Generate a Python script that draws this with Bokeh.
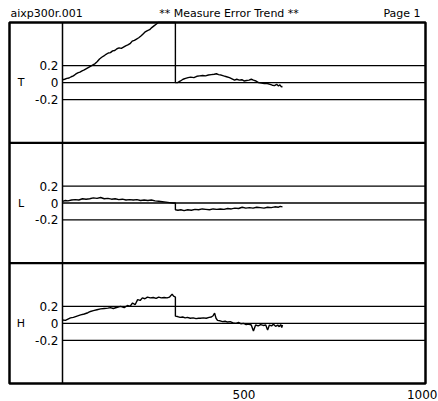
from bokeh.plotting import figure
from bokeh.models import Range1d
from bokeh.core.properties import value
from bokeh.embed import file_html
from bokeh.resources import INLINE

# ---------------- data ----------------
file_name = "aixp300r.001"
chart_title = "** Measure Error Trend **"
page_label = "Page 1"
panel_names = ["T", "L", "H"]
y_ticks = [0.2, 0.0, -0.2]
y_tick_labels = ["0.2", "0", "-0.2"]
x_ticks = [500, 1000]
x_tick_labels = ["500", "1000"]
X_MAX = 1000
Y_LIM = 0.71

# T runs off the top of its panel between ~262 and ~311; it is read there as the panel max
T_x = [0, 6, 12, 18, 24, 30, 36, 42, 48, 54, 60, 66, 72, 78, 84, 90, 96, 102, 108, 114,
       120, 126, 132, 138, 144, 150, 156, 162, 168, 174, 180, 186, 192, 198, 204, 210,
       216, 222, 228, 234, 240, 246, 252, 258, 264, 311,
       311, 317, 325, 332, 339, 346, 353, 362, 370, 378, 386, 394, 402, 410, 418, 424,
       430, 437, 444, 452, 460, 467, 474, 480, 487, 494, 500, 507, 514, 520, 526, 533,
       540, 548, 556, 564, 572, 578, 584, 590, 595, 599, 603, 606]
T_y = [0.035, 0.04, 0.05, 0.055, 0.07, 0.08, 0.1, 0.115, 0.125, 0.14, 0.15, 0.165, 0.18, 0.195, 0.21, 0.225, 0.25, 0.28, 0.3, 0.315,
       0.335, 0.35, 0.355, 0.375, 0.38, 0.4, 0.41, 0.405, 0.42, 0.435, 0.445, 0.46, 0.49, 0.5, 0.515, 0.53,
       0.55, 0.575, 0.6, 0.615, 0.625, 0.65, 0.67, 0.69, 0.71, 0.71,
       0.0, 0.0, 0.02, 0.04, 0.05, 0.06, 0.065, 0.06, 0.075, 0.08, 0.085, 0.08, 0.09, 0.095, 0.1, 0.105,
       0.095, 0.09, 0.08, 0.07, 0.06, 0.045, 0.03, 0.04, 0.03, 0.035, 0.02, 0.025, 0.03, 0.04, 0.03, 0.02,
       0.0, -0.005, -0.01, -0.01, -0.02, -0.03, -0.035, -0.02, -0.04, -0.025, -0.05, -0.045]

L_x = [0, 8, 15, 25, 35, 45, 55, 65, 75, 85, 95, 105, 115, 125, 135, 145, 155, 165, 175, 185,
       195, 205, 215, 225, 235, 245, 255, 265, 275, 285, 295, 305, 311,
       311, 318, 326, 335, 345, 355, 365, 375, 385, 395, 405, 415, 425, 435, 445, 455, 465,
       475, 485, 495, 505, 515, 525, 535, 545, 555, 565, 575, 585, 595, 600, 606]
L_y = [0.02, 0.03, 0.025, 0.035, 0.04, 0.035, 0.05, 0.045, 0.05, 0.06, 0.055, 0.065, 0.05, 0.055, 0.045, 0.05, 0.04, 0.045, 0.035, 0.04,
       0.035, 0.04, 0.03, 0.035, 0.03, 0.035, 0.025, 0.02, 0.015, 0.01, 0.005, 0.0, 0.0,
       -0.08, -0.085, -0.08, -0.09, -0.08, -0.085, -0.075, -0.08, -0.07, -0.075, -0.08, -0.07, -0.075, -0.07, -0.075, -0.065, -0.07,
       -0.06, -0.065, -0.05, -0.06, -0.055, -0.06, -0.05, -0.055, -0.06, -0.05, -0.055, -0.045, -0.05, -0.04, -0.045]

H_x = [0, 8, 15, 22, 30, 40, 50, 60, 70, 77, 85, 95, 105, 115, 125, 132, 140, 151, 160, 170,
       179, 186, 193, 200, 207, 214, 220, 227, 234, 242, 250, 258, 265, 272, 280, 288, 295, 302, 306, 311,
       311, 317, 324, 331, 338, 344, 352, 360, 368, 375, 380, 388, 396, 404, 410, 415, 419, 423, 427,
       434, 441, 448, 455, 462, 470, 478, 485, 492, 499, 506, 513, 520, 526, 532, 539, 546, 553,
       560, 565, 570, 576, 581, 587, 593, 597, 601, 604, 606]
H_y = [0.04, 0.035, 0.05, 0.065, 0.07, 0.085, 0.1, 0.11, 0.125, 0.14, 0.15, 0.16, 0.17, 0.175, 0.18, 0.185, 0.175, 0.19, 0.2, 0.185,
       0.21, 0.2, 0.24, 0.22, 0.28, 0.27, 0.3, 0.29, 0.31, 0.3, 0.305, 0.295, 0.31, 0.3, 0.305, 0.3, 0.31, 0.345, 0.32, 0.31,
       0.085, 0.08, 0.07, 0.075, 0.065, 0.07, 0.06, 0.065, 0.055, 0.06, 0.06, 0.065, 0.06, 0.07, 0.075, 0.09, 0.12, 0.06, 0.035,
       0.03, 0.02, 0.025, 0.015, 0.02, 0.005, 0.0, 0.01, -0.005, 0.0, -0.015, -0.01, -0.02, -0.09, -0.02, -0.03, -0.015, -0.025,
       -0.02, -0.08, -0.02, -0.03, -0.01, -0.035, -0.02, -0.04, -0.015, -0.05, -0.02]

series = {"T": (T_x, T_y), "L": (L_x, L_y), "H": (H_x, H_y)}

# ---------------- layout (canvas pixels; the canvas is the whole page) ----------------
W, HGT = 438, 401
FL, FR, FT, FB = 9, 425, 22, 383      # outer box
PLOT_L = 62                            # left edge of the data area
HEAD_BASE, FOOT_BASE = 13, 393.5       # text anchor rows (pixels)
FONT = "DejaVu Sans"

xpx = (FR - PLOT_L) / X_MAX            # px per x unit
panel_h = (FB - FT) / 3.0
k = panel_h / (2 * Y_LIM)              # px per y unit
centers = [FT + panel_h * (i + 0.5) for i in range(3)]


def x_at(px):
    return (px - PLOT_L) / xpx


def y_at(i, py):
    return (centers[i] - py) / k


ranges = {name: Range1d(y_at(i, HGT), y_at(i, 0)) for i, name in enumerate(panel_names)}

p = figure(width=W, height=HGT, output_backend="svg", toolbar_location=None,
           x_range=Range1d(x_at(0), x_at(W)), y_range=Range1d(0, 1),
           x_axis_location=None, y_axis_location=None, title=None,
           min_border=0, min_border_left=0, min_border_right=0,
           min_border_top=0, min_border_bottom=0)
p.extra_y_ranges = ranges
p.grid.visible = False
p.outline_line_color = None
p.background_fill_color = "white"
p.border_fill_color = "white"

for i, name in enumerate(panel_names):
    # gridlines at the tick values, across the data area only
    p.segment(x0=[0] * len(y_ticks), x1=[X_MAX] * len(y_ticks), y0=y_ticks, y1=y_ticks,
              y_range_name=name, line_color="black", line_width=1.3)
    # tick labels
    p.text(x=[0] * len(y_ticks), y=y_ticks, text=y_tick_labels, y_range_name=name,
           x_offset=-4, text_align="right", text_baseline="middle",
           text_font=value(FONT), text_font_size="12px", text_color="black")
    # panel name
    p.text(x=[x_at(20.5)], y=[0], text=[name], y_range_name=name,
           text_align="center", text_baseline="middle",
           text_font=value(FONT), text_font_size="11px", text_color="black")
    xs, ys = series[name]
    p.line(xs, ys, y_range_name=name, line_color="black", line_width=1.4)

# panel separators and left-column divider
for i, name in enumerate(panel_names[:-1]):
    p.segment(x0=[x_at(FL)], x1=[x_at(FR)], y0=[-Y_LIM], y1=[-Y_LIM], y_range_name=name,
              line_color="black", line_width=2.2)
p.segment(x0=[0], x1=[0], y0=[Y_LIM], y1=[y_at(0, FB)], y_range_name="T",
          line_color="black", line_width=1.5)
# outer box
p.quad(left=[x_at(FL)], right=[x_at(FR)], top=[Y_LIM], bottom=[y_at(0, FB)], y_range_name="T",
       fill_color=None, line_color="black", line_width=2.5)

# header texts
for txt, px, align in [(file_name, 10, "left"), (chart_title, 228.5, "center"), (page_label, 420, "right")]:
    p.text(x=[x_at(px)], y=[y_at(0, HEAD_BASE)], text=[txt], y_range_name="T",
           text_align=align, text_baseline="alphabetic",
           text_font=value(FONT), text_font_size="11px", text_color="black")

# x tick labels (the last one is kept inside the page)
for v, s in zip(x_ticks, x_tick_labels):
    last = (v == x_ticks[-1])
    p.text(x=[v], y=[y_at(2, FOOT_BASE)], text=[s], y_range_name="H",
           x_offset=(W - 1 - FR) if last else 0,
           text_align="right" if last else "center", text_baseline="alphabetic",
           text_font=value(FONT), text_font_size="12px", text_color="black")

open("out.html", "w").write(file_html(p, INLINE))
